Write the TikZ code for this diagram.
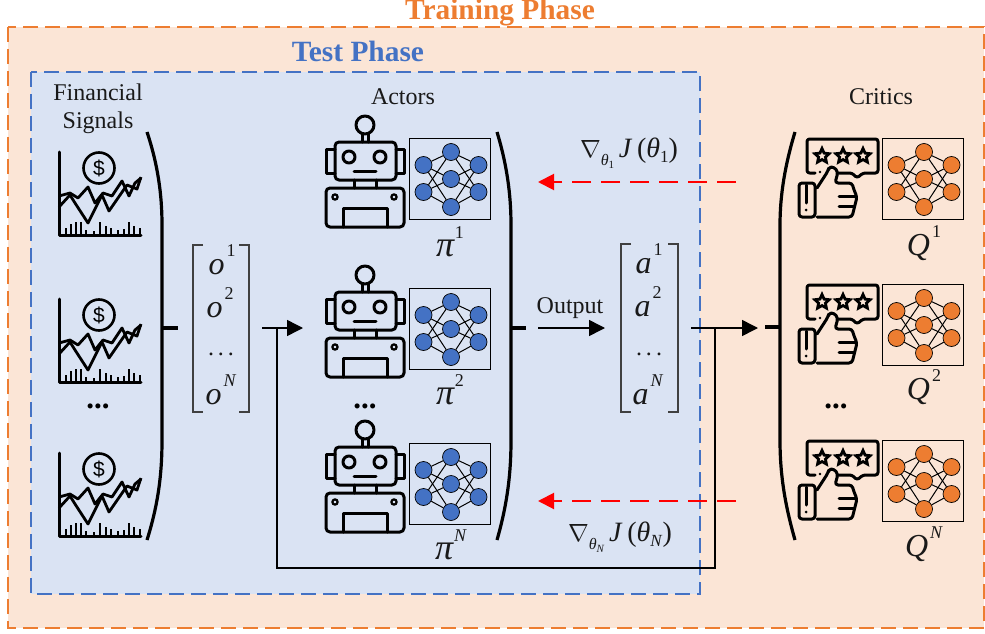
\documentclass[tikz,border=0pt]{standalone}
\usepackage{fontspec}
\setmainfont{Liberation Serif}
\newfontfamily\sansicon{Liberation Sans}
\usetikzlibrary{arrows.meta,shapes.geometric}
\definecolor{panelorange}{HTML}{FBE5D6}
\definecolor{panelblue}{HTML}{DAE3F3}
\definecolor{edgeorange}{HTML}{ED7D31}
\definecolor{edgeblue}{HTML}{4472C4}
\newcommand{\fs}[1]{\fontsize{#1}{#1}\selectfont}
\newcommand{\upx}[1]{\kern2pt\raisebox{.55em}{\fs{18}#1}}
\newcommand{\mathlabel}[2]{{\fs{32}\textit{#1}\upx{#2}}}
\newcommand{\pilabel}[1]{{\fs{36}\textit{π}\raisebox{.5em}{\fs{18}#1}}}
\newcommand{\widedots}{.\kern4pt.\kern4pt.}
\newcommand{\lowx}[2]{\raisebox{-#1pt}{#2}}
\tikzset{
  x=1pt,y=-1pt,
  label text/.style={font=\fs{24},inner sep=0pt,text=black!90},
  phase text/.style={font=\fs{29.4}\bfseries,inner sep=0pt},
  math text/.style={inner sep=0pt,text=black!90},
  dots text/.style={font=\fs{31}\bfseries,inner sep=0pt},
  big bracket/.style={line width=3.2pt,draw=black},
  mat bracket/.style={line width=1.1pt,draw=black!75},
  flow/.style={line width=1.5pt,-{Triangle[length=16pt,width=16pt]}},
  plain flow/.style={line width=1.5pt},
  grad flow/.style={draw=red,line width=2pt,dash pattern=on 19pt off 10pt,-{Triangle[length=16pt,width=16pt]}},
  icon/.style={line width=3pt,line join=round,line cap=round},
  neuron/.style={circle,draw=black,line width=.7pt,minimum size=17pt,inner sep=0pt},
  pics/net/.style={code={
    \draw[line width=.9pt,fill=none] (0,0) rectangle (81,81);
    \foreach \n/\px/\py in {l1/14/27,l2/14/54,m1/41.5/14,m2/41.5/41,m3/41.5/69,r1/69/27,r2/69/54}
      \node[neuron,fill=#1] (-\n) at (\px,\py) {};
    \foreach \a in {l1,l2} \foreach \b in {m1,m2,m3} \draw[line width=1pt] (-\a) -- (-\b);
    \foreach \a in {r1,r2} \foreach \b in {m1,m2,m3} \draw[line width=1pt] (-\a) -- (-\b);
  }},
  pics/chart/.style={code={
    \draw[icon] (1,2) -- (1,85) -- (83,85);
    \node[circle,draw,line width=2.6pt,minimum size=31pt,inner sep=0pt,font=\fs{21}\sansicon] (-coin) at (41,18) {\$};
    \draw[icon,line width=2.8pt,line cap=butt] (1,46) -- (12,43) -- (20,48) -- (30,37) -- (37,53) -- (45,43) -- (54,46) -- (64,31) -- (71,46) -- (77,33) -- (83,28);
    \draw[icon,line width=2.8pt,line cap=butt] (1,57) -- (12,45) -- (17,53) -- (30,73) -- (44,45) -- (51,61) -- (69,35) -- (79,39) -- (83,27);
    \foreach \bx/\bh in {8/7,13/11,18/13,23/13,28/5,36/4,42/13,48/9,53/7,60/5,66/6,71/13,76/9,82/7}
      \draw[line width=2.2pt] (\bx,85) -- (\bx,85-\bh);
  }},
  pics/robot/.style={code={
    \draw[icon,fill=none] (39,25) circle (9);
    \draw[icon] (36,34) -- (36,42) (42,34) -- (42,42);
    \draw[icon,rounded corners=4pt] (9,42) rectangle (70,80);
    \draw[icon] (9,49) -- (0,49) -- (0,73) -- (9,73);
    \draw[icon] (70,49) -- (78,49) -- (78,73) -- (70,73);
    \draw[icon] (23,57) circle (6) (54,57) circle (6);
    \draw[icon] (28,71) -- (50,71);
    \draw[icon] (28,80) -- (28,88) (50,80) -- (50,88);
    \draw[icon,rounded corners=4pt] (0,127) -- (0,88) -- (78,88) -- (78,127) -- cycle;
    \draw[icon] (17,127) -- (17,108) -- (61,108) -- (61,127);
    \draw[line width=2.2pt] (9,97) circle (2.6) (68,97) circle (2.6);
  }},
  pics/thumb/.style={code={
    \draw[icon,rounded corners=2.5pt] (17,34) -- (9,34) -- (9,0) -- (80,0) -- (80,34) -- (65,34) -- (59,39) -- (54,34) -- (40,34);
    \fill (22,33) circle (1.4);
    \foreach \n/\sx in {s1/24,s2/45,s3/65}
      \node[star,star points=5,star point ratio=2.1,draw,line width=2.8pt,minimum size=15pt,inner sep=0pt] (-\n) at (\sx,17) {};
    \draw[icon,rounded corners=3pt] (1,44) rectangle (17,78);
    \draw[icon] (8,46) -- (8,64);
    \fill (8,71) circle (1.5);
    \draw[icon,rounded corners=3pt] (19,49) -- (30,32) -- (31,28) -- (36,28) -- (40,33) -- (37,44) -- (54,44) -- (56,51) -- (59,58) -- (57,66) -- (54,78) -- (19,78);
    \draw[icon] (41,57) -- (58,57) (41,67) -- (56,67);
  }}
}
\begin{document}
\begin{tikzpicture}
\useasboundingbox (0,0) rectangle (985,634);
% panels
\draw[fill=panelorange,draw=edgeorange,line width=1.5pt,dash pattern=on 15pt off 7pt] (8,27) rectangle (984,628);
\draw[fill=panelblue,draw=edgeblue,line width=1.5pt,dash pattern=on 15pt off 7pt] (31,72) rectangle (700,594);
\node[phase text,text=edgeorange,anchor=base] (train) at (500,20) {Training Phase};
\node[phase text,text=edgeblue,anchor=base] (test) at (358,62) {Test Phase};
% headings
\node[label text,anchor=base] (fin1) at (98,100) {Financial};
\node[label text,anchor=base] (fin2) at (98,128) {Signals};
\node[label text,anchor=base] (actors) at (403,104) {Actors};
\node[label text,anchor=base] (critics) at (881,104) {Critics};
% charts
\pic (c1) at (58,150) {chart};
\pic (c2) at (58,297) {chart};
\pic (c3) at (58,451) {chart};
\node[dots text,anchor=base] (dots1) at (98,408) {...};
% robots and nets
\pic (r1) at (326,100) {robot};
\pic (r2) at (326,250) {robot};
\pic (r3) at (326,405) {robot};
\pic (n1) at (409.5,138) {net=edgeblue};
\pic (n2) at (409.5,288) {net=edgeblue};
\pic (n3) at (409.5,443) {net=edgeblue};
\node[dots text,anchor=base] (dots2) at (365,408) {...};
\node[math text,anchor=base] (pi1) at (450,256) {\pilabel{1}};
\node[math text,anchor=base] (pi2) at (450,404) {\pilabel{2}};
\node[math text,anchor=base] (piN) at (451,559) {\pilabel{\textit{N}}};
% critics
\pic (t1) at (798,139) {thumb};
\pic (t2) at (798,285) {thumb};
\pic (t3) at (798,441) {thumb};
\pic (q1) at (882.5,138) {net=edgeorange};
\pic (q2) at (882.5,284) {net=edgeorange};
\pic (q3) at (882.5,440) {net=edgeorange};
\node[dots text,anchor=base] (dots3) at (836,408) {...};
\node[math text,anchor=base] (q1t) at (924,255) {\mathlabel{Q}{1}};
\node[math text,anchor=base] (q2t) at (924,399) {\mathlabel{Q}{2}};
\node[math text,anchor=base] (qNt) at (924,556) {\mathlabel{Q}{\textit{N}}};
% big brackets
\draw[big bracket] (147,132) .. controls (158,165) and (162,195) .. (162,225) -- (162,440) .. controls (162,475) and (158,505) .. (147,540);
\draw[big bracket] (497,132) .. controls (507,165) and (511,195) .. (511,225) -- (511,440) .. controls (511,475) and (507,505) .. (497,540);
\draw[big bracket] (795,132) .. controls (785,165) and (780,195) .. (780,225) -- (780,440) .. controls (780,475) and (785,505) .. (795,540);
\coordinate (bl) at (162,328);
\coordinate (blt) at (178,328);
\coordinate (ba) at (511,328);
\coordinate (bat) at (526,328);
\coordinate (bc) at (780,327);
\coordinate (bct) at (765,327);
\draw[big bracket] (bl) -- (blt);
\draw[big bracket] (ba) -- (bat);
\draw[big bracket] (bc) -- (bct);
% matrix o
\draw[mat bracket] (203,245) -- (193,245) -- (193,412) -- (203,412);
\draw[mat bracket] (239,245) -- (249,245) -- (249,412) -- (239,412);
\node[math text,anchor=base] (o1) at (222,274) {\mathlabel{o}{1}};
\node[math text,anchor=base] (o2) at (220,317) {\mathlabel{o}{2}};
\node[math text,anchor=base,font=\fs{24}] (o3) at (221,355) {\widedots};
\node[math text,anchor=base] (oN) at (221,404) {\mathlabel{o}{\textit{N}}};
% matrix a
\draw[mat bracket] (631,244) -- (621,244) -- (621,412) -- (631,412);
\draw[mat bracket] (668,244) -- (678,244) -- (678,412) -- (668,412);
\node[math text,anchor=base] (a1) at (649,273) {\mathlabel{a}{1}};
\node[math text,anchor=base] (a2) at (648,316) {\mathlabel{a}{2}};
\node[math text,anchor=base,font=\fs{24}] (a3) at (649,355) {\widedots};
\node[math text,anchor=base] (aN) at (648,404) {\mathlabel{a}{\textit{N}}};
% flows
\coordinate (inS) at (262,328);
\coordinate (inE) at (303,328);
\coordinate (inJ) at (277,328);
\coordinate (outS) at (538,328);
\coordinate (outE) at (605,328);
\coordinate (aS) at (691,328);
\coordinate (aE) at (758,328);
\coordinate (aJ) at (715,328);
\coordinate (fbA) at (715,568);
\coordinate (fbB) at (277,568);
\draw[flow] (inS) -- (inE);
\draw[flow] (outS) -- (outE);
\draw[flow] (aS) -- (aE);
\draw[plain flow,line join=miter] (aJ) -- (fbA) -- (fbB) -- (inJ);
\node[label text,anchor=base] (out) at (570,313) {Output};
% gradients
\coordinate (g1S) at (736,182);
\coordinate (g1E) at (538,182);
\coordinate (g2S) at (736,501);
\coordinate (g2E) at (538,501);
\draw[grad flow] (g1S) -- (g1E);
\draw[grad flow] (g2S) -- (g2E);
\node[math text] (g1) at (629,153) {\fs{28}$\nabla$\lowx{8}{\fs{16}\textit{θ}\lowx{3}{\fs{11}1}}\,\textit{J}\,(\textit{θ}\lowx{5}{\fs{17}1})};
\node[math text] (g2) at (620,537) {\fs{28}$\nabla$\lowx{8}{\fs{16}\textit{θ}\lowx{3}{\fs{11}\textit{N}}}\,\textit{J}\,(\textit{θ}\lowx{5}{\fs{17}\textit{N}})};
\end{tikzpicture}
\end{document}
